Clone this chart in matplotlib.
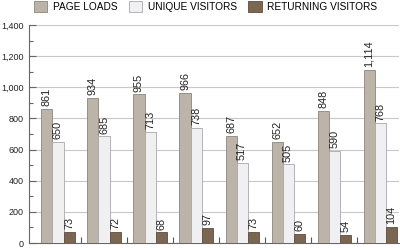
import numpy as np
import matplotlib.pyplot as plt
from matplotlib.ticker import MultipleLocator, FuncFormatter

plt.rcParams['font.family'] = ['Liberation Sans', 'DejaVu Sans']

# values
page_loads = [861, 934, 955, 966, 687, 652, 848, 1114]
unique_visitors = [650, 685, 713, 738, 517, 505, 590, 768]
returning_visitors = [73, 72, 68, 97, 73, 60, 54, 104]
series_names = ['PAGE LOADS', 'UNIQUE VISITORS', 'RETURNING VISITORS']

colors = ['#bcb4a9', '#f0f0f3', '#7b6651']
edges = ['#8c857c', '#a8a8ac', '#5e4e3e']

fig = plt.figure(figsize=(4, 2.48), dpi=100)
ax = fig.add_axes([0.0725, 0.02, 0.925, 0.879])

x = np.arange(len(page_loads))
w = 0.24
comma = lambda v: f'{v:,.0f}'

for k, (vals, name) in enumerate(zip([page_loads, unique_visitors, returning_visitors], series_names)):
    bars = ax.bar(x + (k - 1) * w, vals, width=w, color=colors[k], edgecolor=edges[k],
                  linewidth=0.6, label=name, zorder=3)
    for b, v in zip(bars, vals):
        ax.annotate(comma(v), (b.get_x() + b.get_width() / 2, v), xytext=(0, 2),
                    textcoords='offset points', rotation=90, ha='center', va='bottom',
                    fontsize=7.8, color='#222222', zorder=4)

ax.set_xlim(-0.63, 7.41)
ax.set_ylim(0, 1400)
ax.yaxis.set_major_locator(MultipleLocator(200))
ax.yaxis.set_minor_locator(MultipleLocator(100))
ax.yaxis.set_major_formatter(FuncFormatter(lambda v, p: comma(v)))
ax.set_xticks(x[:-1] + 0.5)
ax.set_xticklabels([])
ax.tick_params(axis='x', direction='in', length=4, width=0.8, color='#555555')
ax.tick_params(axis='y', which='both', direction='in', color='#666666', labelsize=6.5,
               labelcolor='#222222', pad=4)
ax.tick_params(axis='y', which='major', length=5, width=0.8)
ax.tick_params(axis='y', which='minor', length=3, width=0.8)
ax.grid(axis='y', color='#c8c8c8', linewidth=0.8, zorder=0)

for s in ['top', 'right']:
    ax.spines[s].set_visible(False)
for s in ['left', 'bottom']:
    ax.spines[s].set_color('#666666')
    ax.spines[s].set_linewidth(0.8)

fig.legend(loc='center', bbox_to_anchor=(0.514, 0.972), ncol=3, frameon=False,
           fontsize=7.3, handlelength=1.3, handleheight=1.3, columnspacing=1.15,
           handletextpad=0.55, borderpad=0)

plt.savefig('out.png', dpi=100)
